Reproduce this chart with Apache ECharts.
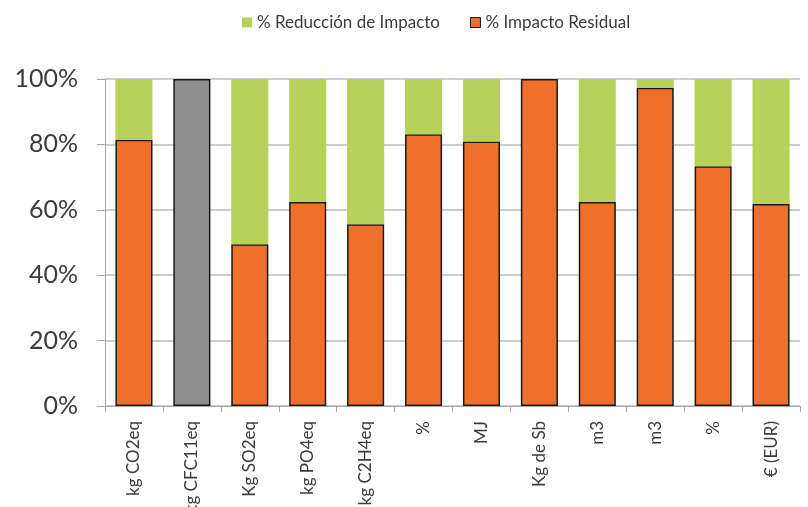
<!DOCTYPE html>
<html>
<head>
<meta charset="utf-8">
<script src="https://cdn.jsdelivr.net/npm/echarts@6/dist/echarts.min.js"></script>
<style>
  html, body { margin: 0; padding: 0; background: #fff; }
  #chart { width: 808px; height: 507px; }
</style>
</head>
<body>
<div id="chart"></div>
<script>
// Impact categories (units) along the x axis
const categories = ['kg CO2eq', 'kg CFC11eq', 'Kg SO2eq', 'kg PO4eq', 'kg C2H4eq', '%', 'MJ', 'Kg de Sb', 'm3', 'm3', '%', '€ (EUR)'];

// Share of the original impact that remains (%)
const residual = [81.4, 100, 49.5, 62.4, 55.6, 83.1, 80.9, 100, 62.4, 97.3, 73.3, 61.8];

// Share of the impact that is avoided (%)
const reduction = [18.6, 0, 50.5, 37.6, 44.4, 16.9, 19.1, 0, 37.6, 2.7, 26.7, 38.2];

// Categories whose residual bar is shown in grey
const greyIndex = [1];

const yTicks = [0, 20, 40, 60, 80, 100];

const GREEN = '#b6d25a';
const ORANGE = '#f0702b';
const GREY = '#8e8e8e';
const TEXT = '#3c3c3c';
const FONT = 'Lato, "Open Sans", sans-serif';

const chart = echarts.init(document.getElementById('chart'), null, { renderer: 'canvas' });

chart.setOption({
  animation: false,
  textStyle: { fontFamily: FONT },
  legend: {
    top: 9,
    left: 237,
    itemWidth: 10,
    itemHeight: 10,
    itemGap: 30,
    textStyle: { fontSize: 17, color: TEXT, fontFamily: FONT },
    data: [
      { name: '% Reducción de Impacto', icon: 'rect', itemStyle: { color: GREEN, borderWidth: 0 } },
      { name: '% Impacto Residual', icon: 'rect', itemStyle: { color: ORANGE, borderColor: '#1a1a1a', borderWidth: 1 } }
    ]
  },
  grid: { left: 105, right: 8, top: 79, bottom: 101, containLabel: false, outerBoundsMode: 'none' },
  xAxis: {
    type: 'category',
    data: categories,
    axisLine: { show: true, lineStyle: { color: '#a6a6a6', width: 1 } },
    axisTick: { show: true, length: 6, alignWithLabel: false, lineStyle: { color: '#a6a6a6' } },
    axisLabel: { rotate: 90, interval: 0, fontSize: 17, color: TEXT, margin: 15, fontFamily: FONT }
  },
  yAxis: {
    type: 'value',
    min: yTicks[0],
    max: yTicks[yTicks.length - 1],
    interval: yTicks[1] - yTicks[0],
    axisLine: { show: true, lineStyle: { color: '#a6a6a6', width: 1 } },
    axisTick: { show: true, length: 8, lineStyle: { color: '#a6a6a6' } },
    axisLabel: { formatter: '{value}%', fontSize: 25, color: TEXT, margin: 27, fontFamily: FONT },
    splitLine: { show: true, lineStyle: { color: '#bdbdbd', width: 1.5 } }
  },
  series: [
    {
      name: '% Impacto Residual',
      type: 'bar',
      stack: 'total',
      barCategoryGap: '36%',
      itemStyle: { color: ORANGE, borderColor: '#1a1a1a', borderWidth: 1.5 },
      data: residual.map((v, i) => greyIndex.includes(i)
        ? { value: v, itemStyle: { color: GREY, borderColor: '#1a1a1a', borderWidth: 1.5 } }
        : v)
    },
    {
      name: '% Reducción de Impacto',
      type: 'bar',
      stack: 'total',
      barCategoryGap: '36%',
      itemStyle: { color: GREEN, borderWidth: 0 },
      data: reduction
    }
  ]
});
</script>
</body>
</html>
